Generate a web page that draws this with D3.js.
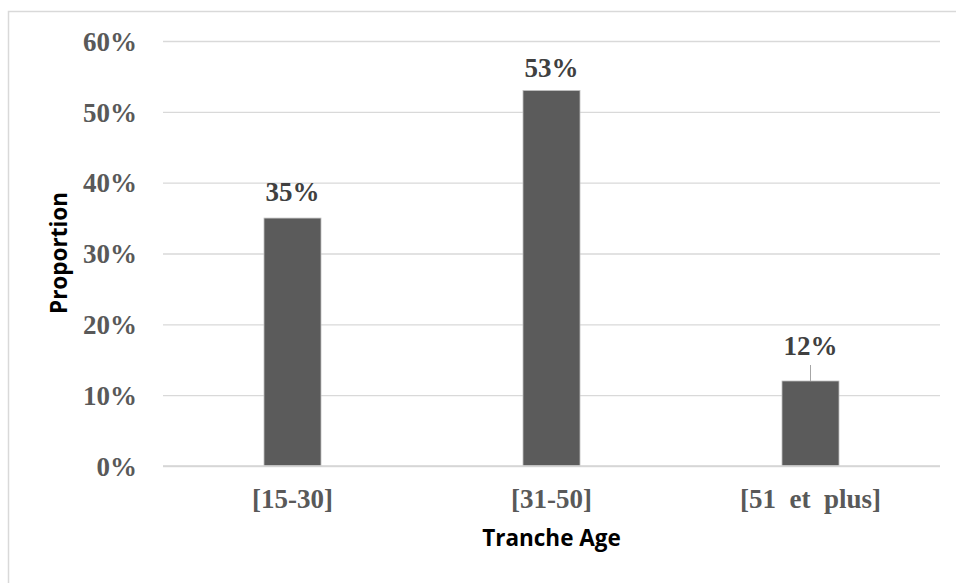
<!DOCTYPE html>
<html>
<head>
<meta charset="utf-8">
<script src="https://cdn.jsdelivr.net/npm/d3@7"></script>
<style>
  html, body { margin: 0; padding: 0; background: #fff; }
  svg { display: block; }
</style>
</head>
<body>
<svg id="chart" width="956" height="583"></svg>
<script>
// Age bands and share of respondents in each
const categories = ["[15-30]", "[31-50]", "[51  et  plus]"];
const proportions = [0.35, 0.53, 0.12];
const yTicks = [0, 0.1, 0.2, 0.3, 0.4, 0.5, 0.6];
const yTitle = "Proportion";
const xTitle = "Tranche Age";

const svg = d3.select("#chart");
const W = 956, H = 583;
const plot = { left: 163, right: 940, top: 41, bottom: 466 };

// chart area frame
svg.append("rect")
  .attr("x", 8.5).attr("y", 11.5)
  .attr("width", W).attr("height", H)
  .attr("fill", "none")
  .attr("stroke", "#d9d9d9")
  .attr("stroke-width", 1.5);

const x = d3.scaleBand()
  .domain(categories)
  .range([plot.left, plot.right])
  .paddingInner(0.78)
  .paddingOuter(0.39);

const y = d3.scaleLinear()
  .domain([0, 0.6])
  .range([plot.bottom, plot.top]);

const serif = "'Liberation Serif', 'Times New Roman', serif";
const sans = "'Open Sans', 'DejaVu Sans', sans-serif";

// horizontal gridlines with percent labels
const yAxis = d3.axisLeft(y)
  .tickValues(yTicks)
  .tickFormat(d3.format(".0%"))
  .tickSize(-(plot.right - plot.left))
  .tickPadding(26);

const gy = svg.append("g")
  .attr("transform", `translate(${plot.left},0)`)
  .call(yAxis);
gy.select(".domain").remove();
gy.selectAll(".tick line")
  .attr("stroke", "#d9d9d9")
  .attr("stroke-width", 1.3);
gy.selectAll(".tick text")
  .attr("fill", "#595959")
  .style("font-family", serif)
  .style("font-size", "27px")
  .style("font-weight", "bold")
  .attr("dy", "0.34em");

// bars
svg.append("g").selectAll("rect")
  .data(proportions)
  .join("rect")
  .attr("x", (d, i) => x(categories[i]))
  .attr("y", d => y(d))
  .attr("width", x.bandwidth())
  .attr("height", d => y(0) - y(d))
  .attr("fill", "#5b5b5b")
  .attr("stroke", "#bdbdbd")
  .attr("stroke-width", 0.8);

// baseline drawn over bar bottoms
svg.append("line")
  .attr("x1", plot.left).attr("x2", plot.right)
  .attr("y1", y(0)).attr("y2", y(0))
  .attr("stroke", "#d4d4d4")
  .attr("stroke-width", 1.5);

// value labels; the shortest bar gets its label lifted with a leader line
const labelLift = [17, 14, 26];
const labels = svg.append("g");
proportions.forEach((v, i) => {
  const cx = x(categories[i]) + x.bandwidth() / 2;
  const top = y(v);
  if (labelLift[i] > 20) {
    labels.append("line")
      .attr("x1", cx).attr("x2", cx)
      .attr("y1", top - labelLift[i] + 10).attr("y2", top)
      .attr("stroke", "#a6a6a6")
      .attr("stroke-width", 1);
  }
  labels.append("text")
    .attr("x", cx)
    .attr("y", top - labelLift[i])
    .attr("text-anchor", "middle")
    .attr("fill", "#404040")
    .style("font-family", serif)
    .style("font-size", "27px")
    .style("font-weight", "bold")
    .text(d3.format(".0%")(v));
});

// category labels
const xAxis = d3.axisBottom(x).tickSize(0).tickPadding(0);
const gx = svg.append("g")
  .attr("transform", `translate(0,${plot.bottom})`)
  .call(xAxis);
gx.select(".domain").remove();
gx.selectAll(".tick text")
  .attr("y", 42)
  .attr("dy", 0)
  .attr("fill", "#595959")
  .style("font-family", serif)
  .style("font-size", "27px")
  .style("font-weight", "bold")
  .style("white-space", "pre");

// axis titles
svg.append("text")
  .attr("transform", "translate(67,253) rotate(-90)")
  .attr("text-anchor", "middle")
  .attr("fill", "#000")
  .style("font-family", sans)
  .style("font-size", "22.5px")
  .style("font-weight", "bold")
  .text(yTitle);

svg.append("text")
  .attr("x", (plot.left + plot.right) / 2)
  .attr("y", 546)
  .attr("text-anchor", "middle")
  .attr("fill", "#000")
  .style("font-family", sans)
  .style("font-size", "22.5px")
  .style("font-weight", "bold")
  .text(xTitle);
</script>
</body>
</html>
